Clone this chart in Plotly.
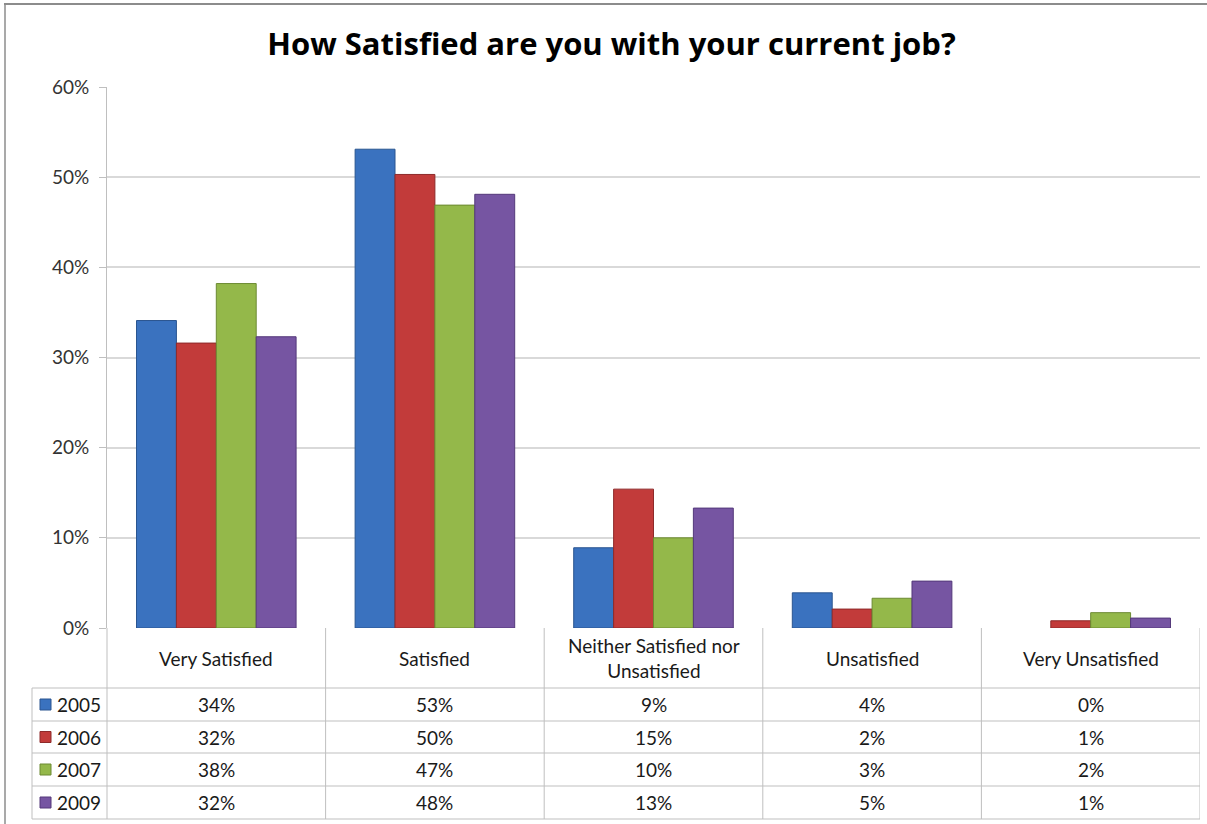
import plotly.graph_objects as go

categories = ["Very Satisfied", "Satisfied", "Neither Satisfied nor Unsatisfied", "Unsatisfied", "Very Unsatisfied"]
header_labels = ["Very Satisfied", "Satisfied", "Neither Satisfied nor<br>Unsatisfied", "Unsatisfied", "Very Unsatisfied"]
years = ["2005", "2006", "2007", "2009"]
v2005 = [0.341, 0.531, 0.089, 0.039, 0.0]
v2006 = [0.316, 0.503, 0.154, 0.021, 0.008]
v2007 = [0.382, 0.469, 0.100, 0.033, 0.017]
v2009 = [0.323, 0.481, 0.133, 0.052, 0.011]
table_text = {
    "2005": ["34%", "53%", "9%", "4%", "0%"],
    "2006": ["32%", "50%", "15%", "2%", "1%"],
    "2007": ["38%", "47%", "10%", "3%", "2%"],
    "2009": ["32%", "48%", "13%", "5%", "1%"],
}
yticks = [0, 0.1, 0.2, 0.3, 0.4, 0.5, 0.6]

series = [v2005, v2006, v2007, v2009]
colors = ["#3A72BF", "#C23B3A", "#94B84A", "#7655A2"]
edges = ["#2A5590", "#8E2A2A", "#6C8A32", "#54397A"]

W, H = 1207, 824
L, R, T, B = 107, 1200, 87, 628

def px(x):
    return (x - L) / (R - L)

def py(y):
    return (B - y) / (B - T)

fig = go.Figure()
for yr, vals, c, e in zip(years, series, colors, edges):
    fig.add_trace(go.Bar(
        x=categories, y=vals, name=yr,
        marker=dict(color=c, line=dict(color=e, width=[0 if v == 0 else 1 for v in vals])),
        showlegend=False,
    ))

shapes = []
line_c = "#BFBFBF"
for i in range(len(categories)):
    shapes.append(dict(type="line", xref="x", yref="paper", x0=i + 0.5, x1=i + 0.5,
                       y0=py(628), y1=py(819), line=dict(color=line_c, width=1)))
shapes.append(dict(type="line", xref="paper", yref="paper", x0=0, x1=0,
                   y0=py(628), y1=py(819), line=dict(color=line_c, width=1)))
shapes.append(dict(type="line", xref="paper", yref="paper", x0=px(32), x1=px(32),
                   y0=py(688), y1=py(819), line=dict(color=line_c, width=1)))
row_y = [688, 721, 753, 786, 819]
for yy in row_y:
    shapes.append(dict(type="line", xref="paper", yref="paper", x0=px(32), x1=1,
                       y0=py(yy), y1=py(yy), line=dict(color=line_c, width=1)))
shapes.append(dict(type="line", xref="paper", yref="paper", x0=px(4), x1=px(1207),
                   y0=py(4), y1=py(4), line=dict(color="#8C8C8C", width=2)))
shapes.append(dict(type="line", xref="paper", yref="paper", x0=px(5), x1=px(5),
                   y0=py(4), y1=py(824), line=dict(color="#8C8C8C", width=1.5)))

annotations = []
font_txt = dict(family="Lato, Open Sans, sans-serif", size=19, color="#1a1a1a")
for i, lab in enumerate(header_labels):
    annotations.append(dict(xref="x", yref="paper", x=i, y=py(658), text=lab,
                            showarrow=False, font=font_txt, xanchor="center", yanchor="middle"))
for r, (yr, c, e) in enumerate(zip(years, colors, edges)):
    yc = (row_y[r] + row_y[r + 1]) / 2
    shapes.append(dict(type="rect", xref="paper", yref="paper", x0=px(40), x1=px(51),
                       y0=py(yc - 5.5), y1=py(yc + 5.5), fillcolor=c, line=dict(color=e, width=1)))
    annotations.append(dict(xref="paper", yref="paper", x=px(55), y=py(yc), text=yr,
                            showarrow=False, font=font_txt, xanchor="left", yanchor="middle"))
    for i, t in enumerate(table_text[yr]):
        annotations.append(dict(xref="x", yref="paper", x=i, y=py(yc), text=t,
                                showarrow=False, font=font_txt, xanchor="center", yanchor="middle"))

fig.update_layout(
    width=W, height=H,
    margin=dict(l=L, r=W - R, t=T, b=H - B),
    paper_bgcolor="white", plot_bgcolor="white",
    barmode="group", bargap=0.27, bargroupgap=0,
    title=dict(text="<b>How Satisfied are you with your current job?</b>",
               x=(263 + 960) / 2 / W, xanchor="center", y=1 - 44 / H, yanchor="middle",
               font=dict(family="Open Sans, sans-serif", size=31, color="black")),
    xaxis=dict(range=[-0.5, 4.5], showticklabels=False, showgrid=False, zeroline=False,
               showline=False, ticks=""),
    yaxis=dict(range=[0, 0.6], tickvals=yticks, tickformat=".0%", showgrid=True,
               gridcolor="#D9D9D9", gridwidth=1.5, zeroline=False, showline=True,
               linecolor=line_c, linewidth=1, ticks="outside", tickcolor=line_c, ticklen=7,
               ticklabelstandoff=6,
               tickfont=dict(family="Lato, Open Sans, sans-serif", size=19, color="#333333")),
    shapes=shapes, annotations=annotations,
)

fig.write_html("out.html")
